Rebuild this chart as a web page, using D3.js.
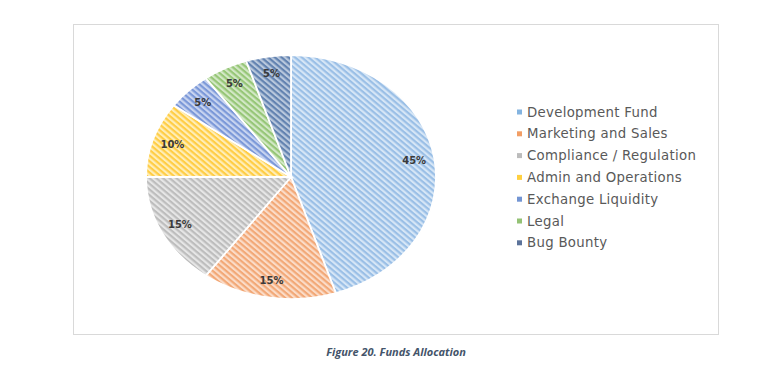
<!DOCTYPE html>
<html>
<head>
<meta charset="utf-8">
<script src="https://cdn.jsdelivr.net/npm/d3@7"></script>
<style>
  body { margin: 0; background: #fff; }
  svg { display: block; }
</style>
</head>
<body>
<div id="chart"></div>
<script>
// data
const categories = ["Development Fund", "Marketing and Sales", "Compliance / Regulation",
  "Admin and Operations", "Exchange Liquidity", "Legal", "Bug Bounty"];
const values = [45, 15, 15, 10, 5, 5, 5];
const stripeColors = ["#9abfe6", "#f2a877", "#bdbdbd", "#ffcd45", "#7b98d8", "#96c677", "#6282b0"];
const bgColors = ["#d6e6f6", "#fbdcc8", "#e6e6e6", "#ffeeb8", "#c8d4f0", "#d3e8c6", "#b9c8dd"];
const legendColors = ["#5b9bd5", "#ed7d31", "#a5a5a5", "#ffc000", "#4472c4", "#70ad47", "#264478"];

const W = 778, H = 365;
const cx = 291, cy = 177, rx = 145, ry = 122;

const svg = d3.select("#chart").append("svg")
  .attr("width", W).attr("height", H);

// chart frame
svg.append("rect")
  .attr("x", 73.5).attr("y", 24.5)
  .attr("width", 645).attr("height", 310)
  .attr("fill", "#fff")
  .attr("stroke", "#d9d9d9").attr("stroke-width", 1);

// hatch patterns (wide downward diagonal)
const defs = svg.append("defs");
categories.forEach((c, i) => {
  const p = defs.append("pattern")
    .attr("id", "hatch" + i)
    .attr("patternUnits", "userSpaceOnUse")
    .attr("width", 4).attr("height", 4)
    .attr("patternTransform", "rotate(45)");
  p.append("rect").attr("width", 4).attr("height", 4).attr("fill", bgColors[i]);
  p.append("rect").attr("width", 4).attr("height", 2).attr("fill", stripeColors[i]);
});

const pie = d3.pie().sort(null).value(d => d);
const arcs = pie(values);
const arc = d3.arc().innerRadius(0).outerRadius(ry);
const labelArc = d3.arc().innerRadius(ry * 0.86).outerRadius(ry * 0.86);
const sx = rx / ry;

const g = svg.append("g")
  .attr("transform", `translate(${cx},${cy}) scale(${sx},1)`);

g.selectAll("path")
  .data(arcs)
  .enter()
  .append("path")
  .attr("d", arc)
  .attr("fill", (d, i) => `url(#hatch${i})`)
  .attr("stroke", "#fff")
  .attr("stroke-width", 1.8)
  .attr("vector-effect", "non-scaling-stroke");

// labels
svg.selectAll(".lbl")
  .data(arcs)
  .enter()
  .append("text")
  .attr("class", "lbl")
  .attr("x", d => cx + labelArc.centroid(d)[0] * sx)
  .attr("y", d => cy + labelArc.centroid(d)[1])
  .attr("text-anchor", "middle")
  .attr("dy", "0.35em")
  .attr("font-family", "DejaVu Sans, sans-serif")
  .attr("font-weight", "bold")
  .attr("font-size", 10)
  .attr("fill", "#3a3a3a")
  .text(d => d.data + "%");

// legend
const legend = svg.append("g").attr("transform", "translate(517,112)");
const row = legend.selectAll("g")
  .data(categories)
  .enter()
  .append("g")
  .attr("transform", (d, i) => `translate(0,${i * 21.8})`);
row.append("rect")
  .attr("x", 0).attr("y", -2.5)
  .attr("width", 5).attr("height", 5)
  .attr("fill", (d, i) => legendColors[i])
  .attr("opacity", 0.75);
row.append("text")
  .attr("x", 10)
  .attr("dy", "0.35em")
  .attr("font-family", "DejaVu Sans, sans-serif")
  .attr("font-size", 13.3)
  .attr("letter-spacing", 0.3)
  .attr("fill", "#595959")
  .text(d => d);

// caption
svg.append("text")
  .attr("x", 396).attr("y", 356)
  .attr("text-anchor", "middle")
  .attr("font-family", "Open Sans, sans-serif")
  .attr("font-style", "italic")
  .attr("font-weight", "bold")
  .attr("font-size", 11)
  .attr("fill", "#44546a")
  .text("Figure 20. Funds Allocation");
</script>
</body>
</html>
